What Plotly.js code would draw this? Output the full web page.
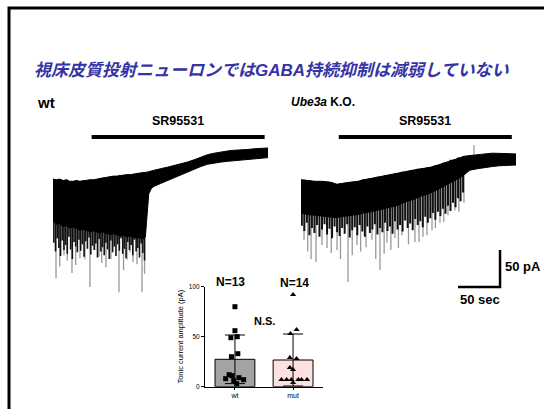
<!DOCTYPE html>
<html><head><meta charset="utf-8">
<script src="https://cdn.plot.ly/plotly-3.0.1.min.js"></script>
<style>html,body{margin:0;padding:0;background:#fff}#chart{width:544px;height:409px}</style>
</head><body><div id="chart"></div>
<script>
// ---- wt trace (time s, current pA) ----
const wtTime  = [0,4,8,12,16,20,24,28,32,36,40,44,48,52,56,60,64,68,72,76,80,84,88,92,96,100,104,108,110,112,114,117,120,128,136,144,152,160,168,176,184,192,200,208,216,224,232,240,248,256];
const wtUpper = [-42,-43,-42,-44,-43,-45,-45,-44,-45,-44,-44,-43,-43,-42,-41,-40,-40,-39,-38,-38,-37,-37,-36,-36,-35,-34,-34,-33,-33,-32,-32,-31,-30,-28,-26,-24,-22,-19,-16,-12,-9,-7,-5,-4,-3,-3,-2,-1,-1,0];
const wtLower = [-98,-103,-102,-106,-105,-108,-107,-109,-111,-110,-112,-113,-112,-114,-115,-114,-116,-117,-116,-118,-119,-118,-120,-119,-121,-121,-122,-123,-120,-85,-62,-55,-52,-48,-44,-40,-36,-33,-29,-25,-22,-20,-19,-18,-17,-16,-15,-15,-14,-13];
const wtGreyT = [3.6,8,13.1,17,22.6,27,32.1,38,44,50,54.8,58,63.1,69,78.6,84,88.1,91.7,95.2,100,106,109];
const wtGreyI = [-176,-160,-145,-152,-169,-158,-149,-150,-188,-138,-147,-155,-161,-150,-195,-165,-151,-141,-154,-157,-195,-170];
const wtBlackT = [1,3,5,7,9,11,13,15,17,19,21,23,25,27,29,31,33,35,37,39,41,43,45,47,49,51,53,55,57,59,61,63,65,67,69,71,73,75,77,79,81,83,85,87,89,91,93,95,97,99,101,103,105,107,109];
const wtBlackI = [-128,-140,-122,-135,-146,-125,-138,-131,-143,-120,-137,-150,-127,-133,-141,-124,-139,-130,-147,-126,-136,-121,-144,-132,-138,-129,-148,-123,-140,-134,-145,-128,-137,-150,-125,-141,-133,-146,-130,-139,-122,-143,-136,-149,-127,-138,-131,-145,-124,-140,-135,-148,-129,-142,-152];
const wtDrug = [46, 252];

// ---- Ube3a K.O. trace ----
const koTime  = [0,8,17,25,34,40,43,48,52,60,68,74,84,94,104,114,124,133,143,154,163,172,181,190,195,201,210,219,228,236,244,250,256];
const koUpper = [-43,-44,-45,-45,-46,-48,-49,-48,-47,-46,-45,-43,-41,-39,-37,-34,-32,-30,-28,-26,-23,-20,-16,-13,-11,-10,-9,-8,-7,-7,-8,-7,-8];
const koLower = [-88,-90,-91,-92,-94,-94,-94,-93,-92,-91,-90,-88,-86,-83,-80,-78,-73,-70,-65,-61,-56,-50,-45,-40,-36,-30,-28,-26,-25,-24,-24,-23,-23];
const koGreyT = [3.6,8,12,17.9,25,31,36,42.9,47,56,61,66.7,71,77.4,84.5,89,94,99,102.4,107,111.9,116,120.2,128,135.7,140.5,145.2,150,156,160,165.5,170,175,183.3,188,194];
const koGreyI = [-124,-140,-150,-154,-131,-135,-142,-138,-150,-181,-145,-131,-140,-134,-124,-150,-165,-143,-128,-138,-122,-135,-118,-130,-127,-127,-120,-118,-111,-108,-101,-100,-91,-84,-86,-74];
const koBlackT = [1,4,7,10,13,16,19,22,25,28,31,34,37,40,43,46,49,52,55,58,61,64,67,70,73,76,79,82,85,88,91,94,97,100,103,106,109,112,115,118,121,124,127,130,133,136,139,142,145,148,151,154,157,160,163,166,169,172,175,178,181,184,187,190,193];
const koBlackI = [-105,-112,-101,-118,-108,-115,-104,-120,-110,-103,-117,-109,-122,-106,-114,-119,-108,-116,-103,-121,-111,-107,-118,-104,-113,-120,-106,-115,-110,-103,-117,-108,-114,-101,-112,-106,-116,-99,-110,-104,-113,-98,-108,-102,-111,-96,-104,-99,-107,-93,-101,-95,-88,-97,-86,-92,-82,-89,-78,-85,-74,-80,-68,-72,-60];
const koUpSpikeT = [206];
const koUpSpikeI = [4];
const koDrug = [45, 251];

// ---- scale bar ----
const scaleSec = 50, scalePA = 50;

// ---- summary bar chart ----
const groups = ['wt', 'mut'];
const groupN = ['N=13', 'N=14'];
const means = [27.4, 26.7];
const sds = [24.3, 26.0];
const wtPts = [80,56,50,49,33,30,12,11,9,8,7,6,3];
const wtDx  = [0,0,0.04,-0.07,0.05,-0.06,-0.1,-0.05,0.07,-0.16,0.15,-0.02,0.03];
const mutPts = [92,57,53,29,28,19,17,7,7,7,7,7,7,4];
const mutDx  = [0,0.06,-0.045,-0.055,0.06,-0.055,0,-0.2,-0.11,-0.03,0.09,0.145,0.24,0];

// spikes start at the trace's upper edge (hidden under the black mass) and run to their tip
function spikes(t, tip, envT, envY){
  const x=[], y=[];
  t.forEach((v,i)=>{
    let k=0; for(let j=0;j<envT.length;j++){ if(Math.abs(envT[j]-v)<Math.abs(envT[k]-v)) k=j; }
    x.push(v,v,null); y.push(envY[k],tip[i],null);
  });
  return {x,y};
}
const traces = [];
const GREY='#999999';
const wg = spikes(wtGreyT, wtGreyI, wtTime, wtUpper);
traces.push({x:wg.x,y:wg.y,xaxis:'x',yaxis:'y',mode:'lines',line:{color:GREY,width:1.3},hoverinfo:'skip'});
const wb = spikes(wtBlackT, wtBlackI, wtTime, wtUpper);
traces.push({x:wb.x,y:wb.y,xaxis:'x',yaxis:'y',mode:'lines',line:{color:'#111',width:1.6},hoverinfo:'skip'});
traces.push({x:wtTime,y:wtUpper,xaxis:'x',yaxis:'y',mode:'lines',line:{color:'#000',width:1}});
traces.push({x:wtTime,y:wtLower,xaxis:'x',yaxis:'y',mode:'lines',line:{color:'#000',width:1},fill:'tonexty',fillcolor:'#000'});
traces.push({x:wtDrug,y:[15,15],xaxis:'x',yaxis:'y',mode:'lines',line:{color:'#000',width:4}});

const kg = spikes(koGreyT, koGreyI, koTime, koUpper);
traces.push({x:kg.x,y:kg.y,xaxis:'x2',yaxis:'y2',mode:'lines',line:{color:GREY,width:1.3},hoverinfo:'skip'});
const kb = spikes(koBlackT, koBlackI, koTime, koUpper);
traces.push({x:kb.x,y:kb.y,xaxis:'x2',yaxis:'y2',mode:'lines',line:{color:'#111',width:2},hoverinfo:'skip'});
const ku = spikes(koUpSpikeT, koUpSpikeI, koTime, koLower);
traces.push({x:ku.x,y:ku.y,xaxis:'x2',yaxis:'y2',mode:'lines',line:{color:GREY,width:1.2},hoverinfo:'skip'});
traces.push({x:koTime,y:koUpper,xaxis:'x2',yaxis:'y2',mode:'lines',line:{color:'#000',width:1}});
traces.push({x:koTime,y:koLower,xaxis:'x2',yaxis:'y2',mode:'lines',line:{color:'#000',width:1},fill:'tonexty',fillcolor:'#000'});
traces.push({x:koDrug,y:[15,15],xaxis:'x2',yaxis:'y2',mode:'lines',line:{color:'#000',width:4}});
traces.push({x:[187,187+scaleSec,187+scaleSec],y:[-188,-188,-188+scalePA],xaxis:'x2',yaxis:'y2',mode:'lines',line:{color:'#000',width:2.5}});

traces.push({type:'bar',x:[0,1],y:means,xaxis:'x3',yaxis:'y3',width:0.686,
  marker:{color:['#a3a3a3','#fde0e0'],line:{color:'#000',width:1}},
  error_y:{type:'data',array:sds,visible:true,color:'#000',thickness:1,width:10}});
traces.push({type:'scatter',mode:'markers',x:wtPts.map((v,i)=>0+wtDx[i]),y:wtPts,xaxis:'x3',yaxis:'y3',cliponaxis:false,
  marker:{symbol:'square',size:5,color:'#000'}});
traces.push({type:'scatter',mode:'markers',x:mutPts.map((v,i)=>1+mutDx[i]),y:mutPts,xaxis:'x3',yaxis:'y3',cliponaxis:false,
  marker:{symbol:'triangle-up',size:5.5,color:'#000'}});

const W=544,H=409;
const px=v=>v/W, py=v=>1-v/H;
const hidden={visible:false,fixedrange:true};
const F='Liberation Sans, Arial, sans-serif';
const layout={
  width:W,height:H,margin:{l:0,r:0,t:0,b:0},paper_bgcolor:'#fff',plot_bgcolor:'rgba(0,0,0,0)',
  showlegend:false,
  xaxis:Object.assign({domain:[px(53),px(268)],range:[0,256],anchor:'y'},hidden),
  yaxis:Object.assign({domain:[py(296),py(129.5)],range:[-200,25],anchor:'x'},hidden),
  xaxis2:Object.assign({domain:[px(301),px(516)],range:[0,256],anchor:'y2'},hidden),
  yaxis2:Object.assign({domain:[py(296),py(129.5)],range:[-200,25],anchor:'x2'},hidden),
  xaxis3:{domain:[px(205),px(323)],range:[-0.515,1.515],anchor:'y3',showline:true,linecolor:'#000',linewidth:1,
    showgrid:false,zeroline:false,tickvals:[0,1],ticktext:groups,ticks:'outside',ticklen:2,tickcolor:'#000',
    tickfont:{family:F,size:7,color:'#000'}},
  yaxis3:{domain:[py(386.7),py(286.7)],range:[0,100],anchor:'x3',showline:true,linecolor:'#000',linewidth:1,
    showgrid:false,zeroline:false,tickvals:[0,50,100],ticks:'outside',ticklen:3,tickcolor:'#000',
    tickfont:{family:F,size:6.5,color:'#000'},
    title:{text:'Tonic current amplitude (pA)',font:{family:F,size:7.5,color:'#000'},standoff:4}},
  shapes:[{type:'path',xref:'paper',yref:'paper',path:`M ${px(9)} 0 L ${px(9)} ${py(8)} L 1.01 ${py(8)}`,line:{color:'#000',width:3}}],
  annotations:[
    {xref:'paper',yref:'paper',x:px(272),y:py(70),text:'<b><i>視床皮質投射ニューロンではGABA持続抑制は減弱していない</i></b>',showarrow:false,
      font:{family:'Liberation Sans, Noto Sans CJK JP',size:17,color:'#3434a6'},xanchor:'center',yanchor:'middle'},
    {xref:'paper',yref:'paper',x:px(35),y:py(102),text:'<b>wt</b>',showarrow:false,font:{family:F,size:15,color:'#000'},xanchor:'left',yanchor:'middle'},
    {xref:'paper',yref:'paper',x:px(289),y:py(102),text:'<b><i>Ube3a</i> K.O.</b>',showarrow:false,font:{family:F,size:12,color:'#000'},xanchor:'left',yanchor:'middle'},
    {xref:'x',yref:'paper',x:(wtDrug[0]+wtDrug[1])/2,y:py(121),text:'<b>SR95531</b>',showarrow:false,font:{family:F,size:12.5,color:'#000'},xanchor:'center',yanchor:'middle'},
    {xref:'x2',yref:'paper',x:(koDrug[0]+koDrug[1])/2,y:py(121),text:'<b>SR95531</b>',showarrow:false,font:{family:F,size:12.5,color:'#000'},xanchor:'center',yanchor:'middle'},
    {xref:'paper',yref:'paper',x:px(503),y:py(266),text:'<b>50 pA</b>',showarrow:false,font:{family:F,size:13,color:'#000'},xanchor:'left',yanchor:'middle'},
    {xref:'paper',yref:'paper',x:px(480),y:py(299),text:'<b>50 sec</b>',showarrow:false,font:{family:F,size:13,color:'#000'},xanchor:'center',yanchor:'middle'},
    {xref:'x3',yref:'paper',x:-0.08,y:py(282),text:'<b>'+groupN[0]+'</b>',showarrow:false,font:{family:F,size:12,color:'#000'},xanchor:'center',yanchor:'middle'},
    {xref:'x3',yref:'paper',x:1.03,y:py(283),text:'<b>'+groupN[1]+'</b>',showarrow:false,font:{family:F,size:12,color:'#000'},xanchor:'center',yanchor:'middle'},
    {xref:'x3',yref:'paper',x:0.5,y:py(321),text:'<b>N.S.</b>',showarrow:false,font:{family:F,size:11,color:'#000'},xanchor:'center',yanchor:'middle'}
  ]
};
Plotly.newPlot('chart',traces,layout,{staticPlot:true,displayModeBar:false});
</script></body></html>
